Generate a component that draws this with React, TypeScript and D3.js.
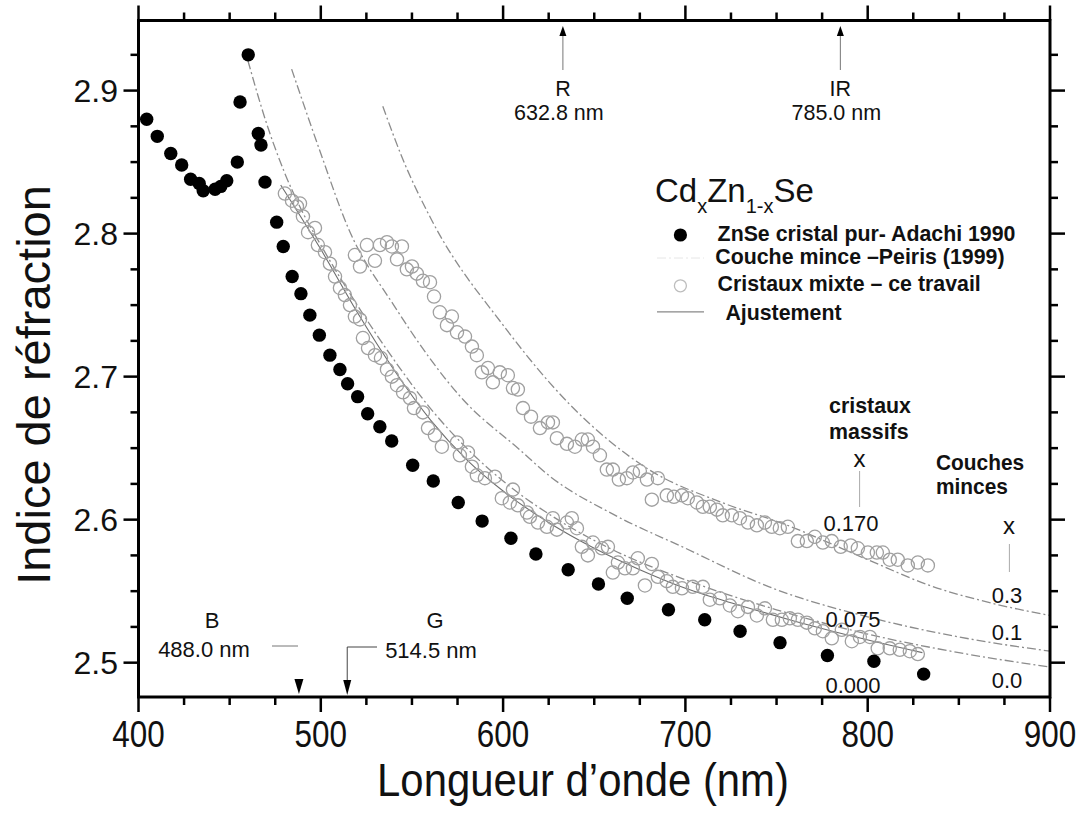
import React from 'react';
import * as d3 from 'd3';

// ZnSe pure crystal – Adachi 1990 (filled dots): [wavelength nm, n]
const adachi: [number, number][] = [
  [404.5, 2.880], [410.3, 2.868], [417.7, 2.856], [423.7, 2.848], [428.6, 2.838], [433.3, 2.835],
  [435.5, 2.830], [442.0, 2.831], [445.1, 2.833], [448.4, 2.837], [454.2, 2.850], [455.7, 2.892],
  [460.2, 2.925], [465.7, 2.870], [467.2, 2.862], [469.4, 2.836], [475.8, 2.808], [479.4, 2.791],
  [484.3, 2.770], [489.1, 2.758], [494.0, 2.743], [499.2, 2.729], [505.0, 2.715], [510.5, 2.705],
  [514.7, 2.695], [520.2, 2.686], [525.7, 2.674], [532.4, 2.665], [538.9, 2.655], [550.4, 2.638],
  [561.7, 2.627], [575.4, 2.612], [588.5, 2.599], [604.3, 2.587], [618.0, 2.576], [635.7, 2.565],
  [652.3, 2.555], [668.1, 2.545], [690.7, 2.537], [710.6, 2.530], [730.0, 2.522], [751.9, 2.514],
  [777.9, 2.505], [803.4, 2.501], [830.7, 2.492],
];

// Mixed crystals – this work, x = 0.075 (open circles, lower set)
const mixed075: [number, number][] = [
  [480.3, 2.828], [484.2, 2.823], [486.9, 2.819], [488.6, 2.821], [490.2, 2.812], [493.0, 2.801],
  [496.8, 2.804], [498.4, 2.792], [502.3, 2.787], [505.0, 2.779], [507.8, 2.770], [510.5, 2.762],
  [513.2, 2.757], [516.0, 2.750], [518.7, 2.742], [521.5, 2.740], [523.1, 2.727], [525.9, 2.720],
  [529.7, 2.715], [533.0, 2.713], [536.3, 2.705], [539.0, 2.700], [541.8, 2.694], [545.1, 2.689],
  [548.9, 2.685], [551.1, 2.678], [556.0, 2.675], [558.8, 2.664], [562.6, 2.659], [566.4, 2.651],
  [574.7, 2.654], [576.3, 2.645], [580.7, 2.647], [582.9, 2.637], [585.6, 2.631], [590.0, 2.629],
  [595.5, 2.630], [599.3, 2.615], [603.7, 2.612], [605.4, 2.621], [608.1, 2.610], [613.1, 2.605],
  [614.7, 2.602], [619.1, 2.598], [624.0, 2.595], [627.3, 2.601], [629.5, 2.593], [635.0, 2.598],
  [637.7, 2.601], [640.5, 2.594], [643.2, 2.581], [646.5, 2.575], [649.3, 2.584], [654.2, 2.580],
  [657.5, 2.581], [660.2, 2.563], [663.0, 2.570], [666.8, 2.566], [671.2, 2.566], [673.9, 2.573],
  [677.8, 2.554], [681.6, 2.569], [684.9, 2.560], [689.8, 2.557], [693.1, 2.553], [698.1, 2.552],
  [704.1, 2.553], [709.6, 2.553], [713.4, 2.544], [718.9, 2.545], [724.4, 2.540], [728.8, 2.536],
  [734.3, 2.539], [739.2, 2.533], [743.6, 2.538], [748.0, 2.530], [752.9, 2.530], [757.3, 2.531],
  [761.7, 2.530], [766.6, 2.528], [771.0, 2.524], [775.4, 2.522], [780.3, 2.517], [785.8, 2.523],
  [791.3, 2.515], [795.7, 2.518], [801.2, 2.518], [805.5, 2.510], [812.1, 2.510], [817.6, 2.509],
  [823.1, 2.508], [827.5, 2.506],
];

// Mixed crystals – this work, x = 0.170 (open circles, upper set)
const mixed170: [number, number][] = [
  [518.7, 2.785], [521.5, 2.777], [525.3, 2.792], [529.7, 2.781], [532.4, 2.792], [536.3, 2.794],
  [539.0, 2.791], [541.8, 2.782], [544.5, 2.791], [547.2, 2.775], [550.0, 2.777], [552.7, 2.772],
  [556.0, 2.767], [559.9, 2.766], [562.1, 2.756], [565.3, 2.745], [569.2, 2.736], [571.9, 2.742],
  [574.7, 2.731], [579.1, 2.728], [582.9, 2.721], [585.6, 2.715], [588.4, 2.703], [591.7, 2.706],
  [594.4, 2.696], [598.2, 2.703], [602.6, 2.701], [605.4, 2.692], [608.1, 2.691], [610.9, 2.678],
  [615.3, 2.672], [620.2, 2.664], [624.6, 2.668], [627.3, 2.668], [629.5, 2.657], [635.0, 2.653],
  [639.4, 2.651], [643.2, 2.656], [646.5, 2.656], [649.3, 2.651], [653.1, 2.645], [656.9, 2.635],
  [660.2, 2.635], [663.5, 2.628], [667.9, 2.629], [671.2, 2.633], [675.0, 2.634], [678.9, 2.628],
  [681.6, 2.614], [684.9, 2.629], [689.8, 2.617], [693.7, 2.616], [698.1, 2.617], [701.3, 2.615],
  [706.3, 2.612], [709.6, 2.609], [713.4, 2.609], [717.3, 2.607], [720.5, 2.603], [725.5, 2.603],
  [729.9, 2.601], [734.3, 2.598], [739.2, 2.596], [743.6, 2.598], [747.4, 2.595], [751.8, 2.594],
  [756.2, 2.595], [761.7, 2.585], [766.6, 2.585], [771.0, 2.588], [775.4, 2.584], [780.3, 2.585],
  [785.2, 2.581], [790.7, 2.582], [794.6, 2.580], [800.1, 2.577], [805.0, 2.577], [808.3, 2.577],
  [812.1, 2.572], [816.5, 2.572], [822.0, 2.568], [827.5, 2.570], [833.0, 2.568],
];

// Fit ("Ajustement") through the x = 0.075 set
const fitCurve: [number, number][] = [
  [478, 2.834], [500, 2.789], [520, 2.745], [540, 2.705], [560, 2.670], [580, 2.642], [600, 2.620],
  [625, 2.598], [650, 2.580], [675, 2.565], [700, 2.552], [730, 2.540], [760, 2.529], [790, 2.519],
  [830, 2.507],
];

// Thin films – Peiris (1999), x = 0.0, 0.1, 0.3 (dash-dot)
const peiris00: [number, number][] = [
  [460, 2.921], [470, 2.878], [480, 2.843], [490, 2.815], [500, 2.792], [520, 2.750], [540, 2.712],
  [560, 2.678], [580, 2.650], [600, 2.627], [630, 2.600], [660, 2.579], [700, 2.558], [750, 2.537],
  [800, 2.520], [850, 2.507], [900, 2.497],
];
const peiris01: [number, number][] = [
  [484, 2.915], [500, 2.856], [515, 2.804], [540, 2.750], [578, 2.684], [609, 2.649], [626, 2.630],
  [660, 2.604], [700, 2.580], [746, 2.553], [800, 2.532], [850, 2.518], [900, 2.508],
];
const peiris03: [number, number][] = [
  [534, 2.889], [545, 2.852], [561, 2.809], [600, 2.736], [637, 2.680], [680, 2.635], [720, 2.612],
  [754, 2.597], [800, 2.572], [834, 2.554], [870, 2.541], [900, 2.533],
];

const xTickValues = d3.range(400, 901, 25);
const xTickLabels = [400, 500, 600, 700, 800, 900];
const yTickValues = d3.range(2.5, 2.926, 0.025).map((v) => Math.round(v * 1000) / 1000);
const yTickLabels = [2.5, 2.6, 2.7, 2.8, 2.9];

const laserLines = [
  { name: 'R', nm: 632.8, label: '632.8 nm' },
  { name: 'IR', nm: 785.0, label: '785.0 nm' },
];

export default function App() {
  const x = d3.scaleLinear().domain([400, 900]).range([138.5, 1050]);
  const y = d3.scaleLinear().domain([2.476, 2.949]).range([697, 20.5]);
  const line = d3
    .line<[number, number]>()
    .x((d) => x(d[0]))
    .y((d) => y(d[1]))
    .curve(d3.curveMonotoneX);

  const left = x(400);
  const right = x(900);
  const top = y(2.949);
  const bottom = y(2.476);
  const font = 'Liberation Sans, Arial, Helvetica, sans-serif';
  const dashDot = '9 3 2 3';
  const circleStroke = '#a0a0a0';

  const bold = (tx: number, ty: number, s: string, size = 22, sx = 0.97) => (
    <text transform={`translate(${tx},${ty}) scale(${sx},1)`} fontSize={size} fontWeight="bold" fill="#111">
      {s}
    </text>
  );

  return (
    <svg
      width={1086}
      height={817}
      style={{ position: 'absolute', left: 0, top: 0, background: '#fff' }}
      fontFamily={font}
    >
      <rect x={0} y={0} width={1086} height={817} fill="#fff" />

      {/* Peiris dash-dot curves */}
      {[peiris00, peiris01, peiris03].map((c, i) => (
        <path key={'p' + i} d={line(c) || ''} fill="none" stroke="#8c8c8c" strokeWidth={1.3} strokeDasharray={dashDot} />
      ))}

      {/* fit */}
      <path d={line(fitCurve) || ''} fill="none" stroke="#6e6e6e" strokeWidth={1.1} />

      {/* open circles */}
      {mixed075.map((d, i) => (
        <circle key={'a' + i} cx={x(d[0])} cy={y(d[1])} r={6.6} fill="none" stroke={circleStroke} strokeWidth={1.3} />
      ))}
      {mixed170.map((d, i) => (
        <circle key={'b' + i} cx={x(d[0])} cy={y(d[1])} r={6.6} fill="none" stroke={circleStroke} strokeWidth={1.3} />
      ))}

      {/* filled dots */}
      {adachi.map((d, i) => (
        <circle key={'c' + i} cx={x(d[0])} cy={y(d[1])} r={6.7} fill="#000" />
      ))}

      {/* frame */}
      <rect x={left} y={top} width={right - left} height={bottom - top} fill="none" stroke="#000" strokeWidth={3} />

      {/* x ticks */}
      {xTickValues.map((v) => {
        const major = v % 100 === 0;
        const len = major ? 15 : 8;
        return (
          <g key={'xt' + v}>
            <line x1={x(v)} x2={x(v)} y1={bottom} y2={bottom + len} stroke="#000" strokeWidth={2.5} />
            <line x1={x(v)} x2={x(v)} y1={top} y2={top - len} stroke="#000" strokeWidth={2.5} />
          </g>
        );
      })}
      {/* y ticks */}
      {yTickValues.map((v) => {
        const major = Math.abs(Math.round(v * 10) - v * 10) < 1e-6;
        const len = major ? 15 : 8;
        return (
          <g key={'yt' + v}>
            <line x1={left} x2={left - len} y1={y(v)} y2={y(v)} stroke="#000" strokeWidth={2.5} />
            <line x1={right} x2={right + len} y1={y(v)} y2={y(v)} stroke="#000" strokeWidth={2.5} />
          </g>
        );
      })}

      {/* tick labels */}
      {xTickLabels.map((v) => (
        <text key={'xl' + v} transform={`translate(${x(v)},${747}) scale(0.85,1)`} fontSize={37} textAnchor="middle" fill="#111">
          {v}
        </text>
      ))}
      {yTickLabels.map((v) => (
        <text key={'yl' + v} x={118} y={y(v) + 11.5} fontSize={32} textAnchor="end" fill="#111">
          {v.toFixed(1)}
        </text>
      ))}

      {/* axis titles */}
      <text transform={`translate(583,796) scale(0.91,1)`} fontSize={46} textAnchor="middle" fill="#111">
        Longueur d’onde (nm)
      </text>
      <text transform={`translate(50,385) rotate(-90)`} fontSize={47} textAnchor="middle" fill="#111">
        Indice de réfraction
      </text>

      {/* laser lines at top */}
      {laserLines.map((l) => {
        const lx = x(l.nm);
        return (
          <g key={l.name}>
            <line x1={lx} x2={lx} y1={34} y2={70} stroke="#777" strokeWidth={1} />
            <path d={`M${lx},26 L${lx - 3.5},36 L${lx + 3.5},36 Z`} fill="#000" />
            <text x={lx} y={96} fontSize={21.5} textAnchor="middle" fill="#111">{l.name}</text>
            <text x={lx - 4} y={120} fontSize={21.5} textAnchor="middle" fill="#111">{l.label}</text>
          </g>
        );
      })}

      {/* B and G lines at bottom */}
      <text x={212} y={628} fontSize={22} textAnchor="middle" fill="#111">B</text>
      <text x={204} y={657} fontSize={22} textAnchor="middle" fill="#111">488.0 nm</text>
      <line x1={272} x2={298} y1={646} y2={646} stroke="#777" strokeWidth={1} />
      <path d={`M${x(488) - 4.5},${679} L${x(488) + 4.5},${679} L${x(488)},${694} Z`} fill="#000" />
      <text x={435} y={628} fontSize={22} textAnchor="middle" fill="#111">G</text>
      <text x={431} y={658} fontSize={22} textAnchor="middle" fill="#111">514.5 nm</text>
      <path d={`M${377},${647} L${x(514.5)},${647} L${x(514.5)},${682}`} fill="none" stroke="#444" strokeWidth={1} />
      <path d={`M${x(514.5) - 4},${680} L${x(514.5) + 4},${680} L${x(514.5)},${695} Z`} fill="#000" />

      {/* legend */}
      <text x={655} y={202} fontSize={33} fill="#111">
        Cd<tspan fontSize={20} dy={11}>x</tspan>
        <tspan fontSize={33} dy={-11}>Zn</tspan>
        <tspan fontSize={20} dy={11}>1-x</tspan>
        <tspan fontSize={33} dy={-11}>Se</tspan>
      </text>
      <circle cx={680.4} cy={235} r={6.6} fill="#000" />
      {bold(717.6, 241, 'ZnSe cristal pur- Adachi 1990')}
      <line x1={657} x2={704} y1={258} y2={258} stroke="#e6e6e6" strokeWidth={1} strokeDasharray={dashDot} />
      {bold(715.3, 264, 'Couche mince –Peiris (1999)')}
      <circle cx={680.4} cy={285.8} r={6} fill="none" stroke="#bdbdbd" strokeWidth={1.3} />
      {bold(717.6, 291, 'Cristaux mixte – ce travail')}
      <line x1={657} x2={704} y1={311.8} y2={311.8} stroke="#888" strokeWidth={1.2} />
      {bold(725.4, 320, 'Ajustement')}

      {/* right-side annotations */}
      {bold(829, 413, 'cristaux', 23, 0.93)}
      {bold(829, 438.5, 'massifs', 23, 0.93)}
      <text x={859.6} y={467} fontSize={24} textAnchor="middle" fill="#111">x</text>
      <line x1={859.6} x2={859.6} y1={471} y2={507} stroke="#aaa" strokeWidth={1} />
      <text x={851} y={531} fontSize={22} textAnchor="middle" fill="#111">0.170</text>
      <text x={853} y={627} fontSize={22} textAnchor="middle" fill="#111">0.075</text>
      <text x={853} y={693} fontSize={22} textAnchor="middle" fill="#111">0.000</text>

      {bold(936, 470, 'Couches', 22, 0.95)}
      {bold(936, 494, 'minces', 22, 0.95)}
      <text x={1009} y={534} fontSize={24} textAnchor="middle" fill="#111">x</text>
      <line x1={1009.4} x2={1009.4} y1={544} y2={572} stroke="#aaa" strokeWidth={1} />
      <text x={1007} y={603} fontSize={22} textAnchor="middle" fill="#111">0.3</text>
      <text x={1007} y={640} fontSize={22} textAnchor="middle" fill="#111">0.1</text>
      <text x={1007} y={688} fontSize={22} textAnchor="middle" fill="#111">0.0</text>
    </svg>
  );
}
